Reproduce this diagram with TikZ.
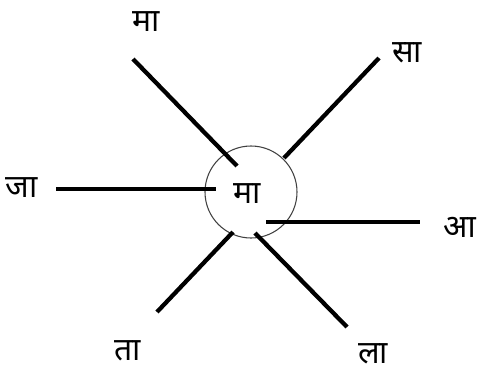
\documentclass[tikz,border=0pt]{standalone}
\usepackage{fontspec}
\newfontfamily\devfont[Script=Devanagari]{Noto Sans}
\usepackage{tikz}
\usetikzlibrary{positioning}
\tikzset{
  lbl/.style={font=\devfont\fontsize{24}{28}\selectfont,inner sep=0pt},
  hub/.style={circle,draw=black!75,line width=0.8pt,minimum size=69pt,inner sep=0pt},
  spoke/.style={line width=3.2pt}}
\begin{document}
\begin{tikzpicture}[x=0.75pt,y=-0.75pt]
\useasboundingbox (0,0) rectangle (482,375);
\node[hub] (c) at (251,192) {};
\node[lbl] (mid) at (247,194) {मा};
% spoke ends
\coordinate (ul1) at (133,59);  \coordinate (ul2) at (237,166);
\coordinate (ur1) at (379,58);  \coordinate (ur2) at (284,158);
\coordinate (l1) at (56,189);   \coordinate (l2) at (216,189);
\coordinate (r1) at (266,222);  \coordinate (r2) at (420,222);
\coordinate (ll1) at (233,232); \coordinate (ll2) at (157,312);
\coordinate (lr1) at (255,233); \coordinate (lr2) at (347,327);
\draw[spoke] (ul1)--(ul2); \draw[spoke] (ur1)--(ur2);
\draw[spoke] (l1)--(l2);   \draw[spoke] (r1)--(r2);
\draw[spoke] (ll1)--(ll2); \draw[spoke] (lr1)--(lr2);
% outer labels
\node[lbl] (top) at (146,22) {मा};
\node[lbl] (sa) at (407,53) {सा};
\node[lbl] (ja) at (22,188) {जा};
\node[lbl] (aa) at (460,227) {आ};
\node[lbl] (ta) at (128,351) {ता};
\node[lbl] (la) at (373,354) {ला};
\end{tikzpicture}
\end{document}
